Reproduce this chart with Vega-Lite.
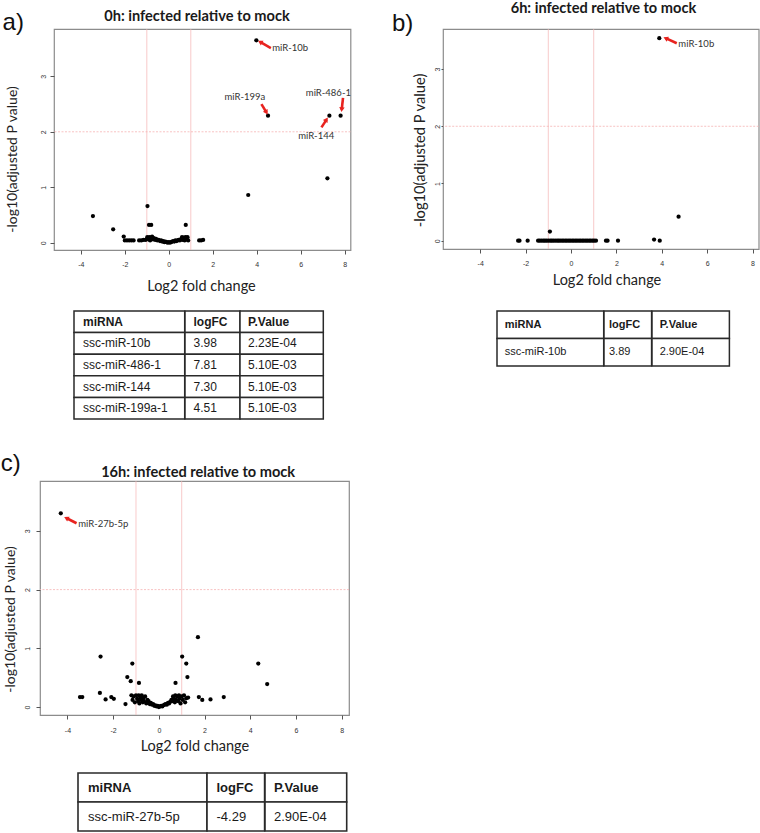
{
  "$schema": "https://vega.github.io/schema/vega-lite/v6.json",
  "padding": 0,
  "background": "white",
  "config": {"view": {"stroke": null}, "font": "Liberation Sans"},
  "datasets": {
    "ptsA": [{"x":3.98,"y":3.65},{"x":4.51,"y":2.29},{"x":7.30,"y":2.29},{"x":7.81,"y":2.29},{"x":7.21,"y":1.16},{"x":3.61,"y":0.86},{"x":-0.97,"y":0.66},{"x":-3.45,"y":0.48},{"x":-2.53,"y":0.24},{"x":-0.9,"y":0.32},{"x":-0.8,"y":0.32},{"x":0.77,"y":0.32},{"x":-2.05,"y":0.11},{"x":-2.0,"y":0.04},{"x":-1.9,"y":0.04},{"x":-1.8,"y":0.04},{"x":-1.7,"y":0.04},{"x":-1.6,"y":0.04},{"x":-1.35,"y":0.04},{"x":-1.25,"y":0.04},{"x":-1.15,"y":0.05},{"x":-1.05,"y":0.05},{"x":-0.98,"y":0.1},{"x":-0.92,"y":0.06},{"x":-0.88,"y":0.1},{"x":-0.85,"y":0.04},{"x":-0.8,"y":0.09},{"x":-0.76,"y":0.11},{"x":-0.72,"y":0.06},{"x":-0.68,"y":0.08},{"x":-0.62,"y":0.05},{"x":-0.58,"y":0.07},{"x":-0.52,"y":0.04},{"x":-0.46,"y":0.05},{"x":-0.4,"y":0.03},{"x":-0.35,"y":0.04},{"x":-0.3,"y":0.02},{"x":-0.25,"y":0.03},{"x":-0.2,"y":0.01},{"x":-0.15,"y":0.02},{"x":-0.1,"y":0.01},{"x":-0.05,"y":0.0},{"x":0.0,"y":0.01},{"x":0.05,"y":0.0},{"x":0.1,"y":0.01},{"x":0.15,"y":0.02},{"x":0.2,"y":0.03},{"x":0.25,"y":0.02},{"x":0.3,"y":0.04},{"x":0.35,"y":0.03},{"x":0.4,"y":0.04},{"x":0.45,"y":0.05},{"x":0.5,"y":0.04},{"x":0.55,"y":0.06},{"x":0.6,"y":0.1},{"x":0.63,"y":0.05},{"x":0.68,"y":0.09},{"x":0.72,"y":0.04},{"x":0.76,"y":0.1},{"x":0.8,"y":0.06},{"x":0.85,"y":0.1},{"x":0.88,"y":0.04},{"x":1.38,"y":0.04},{"x":1.47,"y":0.04},{"x":1.56,"y":0.05}],
    "ptsB": [{"x":3.89,"y":3.54},{"x":4.74,"y":0.42},{"x":-0.93,"y":0.16},{"x":3.66,"y":0.02},{"x":3.91,"y":0.0},{"x":2.07,"y":0},{"x":1.54,"y":0},{"x":1.61,"y":0},{"x":-2.33,"y":0},{"x":-2.27,"y":0},{"x":-1.91,"y":0},{"x":-1.45,"y":0},{"x":-1.38,"y":0},{"x":-1.3,"y":0},{"x":-1.22,"y":0},{"x":-1.15,"y":0},{"x":-1.08,"y":0},{"x":-1.0,"y":0},{"x":-0.92,"y":0},{"x":-0.85,"y":0},{"x":-0.78,"y":0},{"x":-0.7,"y":0},{"x":-0.62,"y":0},{"x":-0.55,"y":0},{"x":-0.48,"y":0},{"x":-0.4,"y":0},{"x":-0.33,"y":0},{"x":-0.25,"y":0},{"x":-0.18,"y":0},{"x":-0.1,"y":0},{"x":-0.03,"y":0},{"x":0.05,"y":0},{"x":0.12,"y":0},{"x":0.2,"y":0},{"x":0.27,"y":0},{"x":0.35,"y":0},{"x":0.42,"y":0},{"x":0.5,"y":0},{"x":0.57,"y":0},{"x":0.65,"y":0},{"x":0.72,"y":0},{"x":0.8,"y":0},{"x":0.87,"y":0},{"x":0.95,"y":0},{"x":1.02,"y":0},{"x":1.1,"y":0}],
    "ptsC": [{"x":-4.29,"y":3.3},{"x":-2.55,"y":0.86},{"x":-1.16,"y":0.74},{"x":-1.38,"y":0.51},{"x":-1.23,"y":0.44},{"x":-0.87,"y":0.41},{"x":0.73,"y":0.41},{"x":1.02,"y":0.86},{"x":1.2,"y":0.74},{"x":1.25,"y":0.51},{"x":1.71,"y":1.19},{"x":4.35,"y":0.74},{"x":4.74,"y":0.39},{"x":-3.45,"y":0.17},{"x":-3.35,"y":0.17},{"x":-2.58,"y":0.24},{"x":-2.33,"y":0.13},{"x":-2.08,"y":0.17},{"x":-1.97,"y":0.14},{"x":-1.46,"y":0.05},{"x":1.28,"y":0.16},{"x":1.75,"y":0.17},{"x":1.9,"y":0.12},{"x":2.26,"y":0.13},{"x":2.84,"y":0.17},{"x":-1.2,"y":0.2},{"x":-1.15,"y":0.12},{"x":-1.1,"y":0.18},{"x":-1.05,"y":0.08},{"x":-1.0,"y":0.2},{"x":-0.95,"y":0.14},{"x":-0.9,"y":0.1},{"x":-0.88,"y":0.2},{"x":-0.85,"y":0.06},{"x":-0.8,"y":0.16},{"x":-0.78,"y":0.12},{"x":-0.75,"y":0.2},{"x":-0.7,"y":0.08},{"x":-0.68,"y":0.15},{"x":-0.65,"y":0.1},{"x":-0.6,"y":0.18},{"x":-0.55,"y":0.06},{"x":-0.5,"y":0.12},{"x":-0.48,"y":0.08},{"x":-0.45,"y":0.1},{"x":-0.4,"y":0.05},{"x":-0.35,"y":0.07},{"x":-0.3,"y":0.04},{"x":-0.25,"y":0.05},{"x":-0.2,"y":0.02},{"x":-0.15,"y":0.03},{"x":-0.1,"y":0.01},{"x":-0.05,"y":0.02},{"x":0.0,"y":0.0},{"x":0.05,"y":0.01},{"x":0.1,"y":0.02},{"x":0.15,"y":0.01},{"x":0.2,"y":0.03},{"x":0.25,"y":0.04},{"x":0.3,"y":0.05},{"x":0.35,"y":0.04},{"x":0.4,"y":0.07},{"x":0.45,"y":0.06},{"x":0.5,"y":0.09},{"x":0.55,"y":0.12},{"x":0.6,"y":0.1},{"x":0.62,"y":0.18},{"x":0.65,"y":0.15},{"x":0.7,"y":0.08},{"x":0.72,"y":0.2},{"x":0.75,"y":0.12},{"x":0.8,"y":0.18},{"x":0.85,"y":0.1},{"x":0.88,"y":0.2},{"x":0.9,"y":0.14},{"x":0.95,"y":0.06},{"x":1.0,"y":0.18},{"x":1.05,"y":0.12},{"x":1.1,"y":0.2},{"x":1.15,"y":0.08},{"x":1.2,"y":0.15}],
    "arrA": [{"x":4.64,"y":3.51,"x2":4.15,"y2":3.62},{"x":4.21,"y":2.50,"x2":4.44,"y2":2.35},{"x":7.92,"y":2.61,"x2":7.86,"y2":2.40},{"x":6.94,"y":2.08,"x2":7.17,"y2":2.22}],
    "labA": [{"label":"miR-10b","x":4.70,"y":3.51},{"label":"miR-199a","x":2.53,"y":2.63},{"label":"miR-486-1","x":6.23,"y":2.70},{"label":"miR-144","x":5.88,"y":1.92}],
    "arrB": [{"x":4.66,"y":3.45,"x2":4.17,"y2":3.54}],
    "labB": [{"label":"miR-10b","x":4.73,"y":3.44}],
    "arrC": [{"x":-3.60,"y":3.13,"x2":-4.05,"y2":3.22}],
    "labC": [{"label":"miR-27b-5p","x":-3.53,"y":3.11}],
    "tabA": [{"row":0,"miRNA":"miRNA","logFC":"logFC","PValue":"P.Value"},{"row":1,"miRNA":"ssc-miR-10b","logFC":"3.98","PValue":"2.23E-04"},{"row":2,"miRNA":"ssc-miR-486-1","logFC":"7.81","PValue":"5.10E-03"},{"row":3,"miRNA":"ssc-miR-144","logFC":"7.30","PValue":"5.10E-03"},{"row":4,"miRNA":"ssc-miR-199a-1","logFC":"4.51","PValue":"5.10E-03"}],
    "tabB": [{"row":0,"miRNA":"miRNA","logFC":"logFC","PValue":"P.Value"},{"row":1,"miRNA":"ssc-miR-10b","logFC":"3.89","PValue":"2.90E-04"}],
    "tabC": [{"row":0,"miRNA":"miRNA","logFC":"logFC","PValue":"P.Value"},{"row":1,"miRNA":"ssc-miR-27b-5p","logFC":"-4.29","PValue":"2.90E-04"}]
  },
  "spacing": 0,
  "bounds": "flush",
  "vconcat": [
    {
      "spacing": 0,
      "bounds": "flush",
      "hconcat": [
        {"width": 13.2, "height": 1, "data": {"values": []}, "mark": "point"},
        {
          "width": 296.5, "height": 221,
          "view": {"stroke": "#8c8c8c", "strokeWidth": 1.2},
          "layer": [
            {"data": {"values": [{}]}, "mark": {"type": "rule", "color": "#f5b3b3", "strokeWidth": 0.7}, "encoding": {"x": {"datum": -1, "type": "quantitative"}}},
            {"data": {"values": [{}]}, "mark": {"type": "rule", "color": "#f5b3b3", "strokeWidth": 0.7}, "encoding": {"x": {"datum": 1, "type": "quantitative"}}},
            {"data": {"values": [{}]}, "mark": {"type": "rule", "color": "#f5b3b3", "strokeWidth": 0.8, "strokeDash": [2, 1.5]}, "encoding": {"y": {"datum": 2, "type": "quantitative"}}},
            {"data": {"name": "ptsA"}, "mark": {"type": "circle", "size": 18, "color": "#000", "opacity": 1},
             "encoding": {
               "x": {"field": "x", "type": "quantitative", "scale": {"domain": [-5.22, 8.26], "nice": false, "zero": false},
                     "axis": {"values": [-4,-2,0,2,4,6,8], "labelExpr": "'' + datum.value", "domain": false, "grid": false, "tickColor": "#555", "tickSize": 4, "labelFont": "Liberation Sans", "labelFontSize": 7, "labelColor": "#333", "labelPadding": 6, "labelFlush": false, "title": "Log2 fold change", "titleFont": "Lato", "titleFontSize": 14.5, "titleFontWeight": "normal", "titleColor": "#222", "titleX": 147, "titleY": 40, "titleBaseline": "alphabetic", "titleAlign": "center"}},
               "y": {"field": "y", "type": "quantitative", "scale": {"domain": [-0.132, 3.854], "nice": false, "zero": false},
                     "axis": {"values": [0,1,2,3], "labelExpr": "'' + datum.value", "domain": false, "grid": false, "tickColor": "#555", "tickSize": 4, "labelAngle": 270, "labelAlign": "center", "labelBaseline": "bottom", "labelFont": "Liberation Sans", "labelFontSize": 7, "labelColor": "#333", "labelPadding": 3.6, "labelFlush": false, "title": "-log10(adjusted P value)", "titleFont": "Lato", "titleFontSize": 14, "titleFontWeight": "normal", "titleColor": "#222", "titleX": -34.5, "titleY": 130, "titleAngle": 270, "titleAlign": "center", "titleBaseline": "bottom"}}
             }},
            {"data": {"name": "arrA"}, "transform": [{"calculate": "atan2(datum.x2 - datum.x, (datum.y2 - datum.y) * 2.52) * 180 / PI", "as": "ang"}],
             "layer": [
               {"mark": {"type": "rule", "color": "#e8231f", "strokeWidth": 2.6}, "encoding": {"x": {"field": "x", "type": "quantitative"}, "y": {"field": "y", "type": "quantitative"}, "x2": {"field": "x2"}, "y2": {"field": "y2"}}},
               {"mark": {"type": "point", "shape": "triangle-up", "filled": true, "size": 30, "color": "#e8231f", "opacity": 1}, "encoding": {"x": {"field": "x2", "type": "quantitative"}, "y": {"field": "y2", "type": "quantitative"}, "angle": {"field": "ang", "type": "quantitative", "scale": null}}}
             ]},
            {"data": {"name": "labA"}, "mark": {"type": "text", "align": "left", "baseline": "middle", "font": "Lato", "fontSize": 9.5, "color": "#333"}, "encoding": {"x": {"field": "x", "type": "quantitative"}, "y": {"field": "y", "type": "quantitative"}, "text": {"field": "label"}}},
            {"data": {"values": [{}]}, "mark": {"type": "text", "text": "0h: infected relative to mock", "align": "center", "baseline": "alphabetic", "font": "Lato", "fontSize": 14.6, "fontWeight": "bold", "color": "#1a1a1a"}, "encoding": {"x": {"datum": 1.28, "type": "quantitative"}, "y": {"datum": 4.007, "type": "quantitative"}}},
            {"data": {"values": [{}]}, "mark": {"type": "text", "text": "a)", "align": "left", "baseline": "middle", "font": "Liberation Sans", "fontSize": 24, "color": "#111"}, "encoding": {"x": {"datum": -7.56, "type": "quantitative"}, "y": {"datum": 3.97, "type": "quantitative"}}}
          ]
        },
        {"width": 92, "height": 1, "data": {"values": []}, "mark": "point"},
        {
          "width": 315.7, "height": 220,
          "view": {"stroke": "#8c8c8c", "strokeWidth": 1.2},
          "layer": [
            {"data": {"values": [{}]}, "mark": {"type": "rule", "color": "#f5b3b3", "strokeWidth": 0.7}, "encoding": {"x": {"datum": -1, "type": "quantitative"}}},
            {"data": {"values": [{}]}, "mark": {"type": "rule", "color": "#f5b3b3", "strokeWidth": 0.7}, "encoding": {"x": {"datum": 1, "type": "quantitative"}}},
            {"data": {"values": [{}]}, "mark": {"type": "rule", "color": "#f5b3b3", "strokeWidth": 0.8, "strokeDash": [2, 1.5]}, "encoding": {"y": {"datum": 2, "type": "quantitative"}}},
            {"data": {"name": "ptsB"}, "mark": {"type": "circle", "size": 18, "color": "#000", "opacity": 1},
             "encoding": {
               "x": {"field": "x", "type": "quantitative", "scale": {"domain": [-5.64, 8.27], "nice": false, "zero": false},
                     "axis": {"values": [-4,-2,0,2,4,6,8], "labelExpr": "'' + datum.value", "domain": false, "grid": false, "tickColor": "#555", "tickSize": 4, "labelFont": "Liberation Sans", "labelFontSize": 7, "labelColor": "#333", "labelPadding": 6, "labelFlush": false, "title": "Log2 fold change", "titleFont": "Lato", "titleFontSize": 14.5, "titleFontWeight": "normal", "titleColor": "#222", "titleX": 163.5, "titleY": 35.7, "titleBaseline": "alphabetic", "titleAlign": "center"}},
               "y": {"field": "y", "type": "quantitative", "scale": {"domain": [-0.145, 3.70], "nice": false, "zero": false},
                     "axis": {"values": [0,1,2,3], "labelExpr": "'' + datum.value", "domain": false, "grid": false, "tickColor": "#555", "tickSize": 2, "labelAngle": 270, "labelAlign": "center", "labelBaseline": "bottom", "labelFont": "Liberation Sans", "labelFontSize": 7, "labelColor": "#333", "labelPadding": 0.5, "labelFlush": false, "title": "-log10(adjusted P value)", "titleFont": "Lato", "titleFontSize": 14.7, "titleFontWeight": "normal", "titleColor": "#222", "titleX": -16, "titleY": 121, "titleAngle": 270, "titleAlign": "center", "titleBaseline": "bottom"}}
             }},
            {"data": {"name": "arrB"}, "transform": [{"calculate": "atan2(datum.x2 - datum.x, (datum.y2 - datum.y) * 2.52) * 180 / PI", "as": "ang"}],
             "layer": [
               {"mark": {"type": "rule", "color": "#e8231f", "strokeWidth": 2.6}, "encoding": {"x": {"field": "x", "type": "quantitative"}, "y": {"field": "y", "type": "quantitative"}, "x2": {"field": "x2"}, "y2": {"field": "y2"}}},
               {"mark": {"type": "point", "shape": "triangle-up", "filled": true, "size": 30, "color": "#e8231f", "opacity": 1}, "encoding": {"x": {"field": "x2", "type": "quantitative"}, "y": {"field": "y2", "type": "quantitative"}, "angle": {"field": "ang", "type": "quantitative", "scale": null}}}
             ]},
            {"data": {"name": "labB"}, "mark": {"type": "text", "align": "left", "baseline": "middle", "font": "Lato", "fontSize": 9.5, "color": "#333"}, "encoding": {"x": {"field": "x", "type": "quantitative"}, "y": {"field": "y", "type": "quantitative"}, "text": {"field": "label"}}},
            {"data": {"values": [{}]}, "mark": {"type": "text", "text": "6h: infected relative to mock", "align": "center", "baseline": "alphabetic", "font": "Lato", "fontSize": 14.6, "fontWeight": "bold", "color": "#1a1a1a"}, "encoding": {"x": {"datum": 1.43, "type": "quantitative"}, "y": {"datum": 3.973, "type": "quantitative"}}},
            {"data": {"values": [{}]}, "mark": {"type": "text", "text": "b)", "align": "left", "baseline": "middle", "font": "Liberation Sans", "fontSize": 24, "color": "#111"}, "encoding": {"x": {"datum": -7.89, "type": "quantitative"}, "y": {"datum": 3.79, "type": "quantitative"}}}
          ]
        }
      ]
    },
    {"width": 1, "height": 282, "data": {"values": []}, "mark": "point"},
    {
      "spacing": 0,
      "bounds": "flush",
      "hconcat": [
        {"width": 34, "height": 1, "data": {"values": []}, "mark": "point"},
        {"width": 110.7, "height": 108, "data": {"name": "tabA"}, "encoding": {"y": {"field": "row", "type": "ordinal", "axis": null, "scale": {"paddingInner": 0, "paddingOuter": 0}}},
         "layer": [
           {"mark": {"type": "rect", "fill": "white", "stroke": "#2a2a2a", "strokeWidth": 1.5}},
           {"transform": [{"filter": "datum.row == 0"}], "mark": {"type": "text", "align": "left", "baseline": "middle", "dx": 9, "font": "Liberation Sans", "fontSize": 12, "fontWeight": "bold", "color": "#1a1a1a"}, "encoding": {"x": {"datum": 0, "type": "quantitative", "scale": {"domain": [0, 1]}, "axis": null}, "text": {"field": "miRNA"}}},
           {"transform": [{"filter": "datum.row > 0"}], "mark": {"type": "text", "align": "left", "baseline": "middle", "dx": 9, "font": "Liberation Sans", "fontSize": 12, "color": "#1a1a1a"}, "encoding": {"x": {"datum": 0, "type": "quantitative", "scale": {"domain": [0, 1]}, "axis": null}, "text": {"field": "miRNA"}}}
         ]},
        {"width": 55, "height": 108, "data": {"name": "tabA"}, "encoding": {"y": {"field": "row", "type": "ordinal", "axis": null, "scale": {"paddingInner": 0, "paddingOuter": 0}}},
         "layer": [
           {"mark": {"type": "rect", "fill": "white", "stroke": "#2a2a2a", "strokeWidth": 1.5}},
           {"transform": [{"filter": "datum.row == 0"}], "mark": {"type": "text", "align": "left", "baseline": "middle", "dx": 8.5, "font": "Liberation Sans", "fontSize": 12, "fontWeight": "bold", "color": "#1a1a1a"}, "encoding": {"x": {"datum": 0, "type": "quantitative", "scale": {"domain": [0, 1]}, "axis": null}, "text": {"field": "logFC"}}},
           {"transform": [{"filter": "datum.row > 0"}], "mark": {"type": "text", "align": "left", "baseline": "middle", "dx": 8.5, "font": "Liberation Sans", "fontSize": 12, "color": "#1a1a1a"}, "encoding": {"x": {"datum": 0, "type": "quantitative", "scale": {"domain": [0, 1]}, "axis": null}, "text": {"field": "logFC"}}}
         ]},
        {"width": 83.3, "height": 108, "data": {"name": "tabA"}, "encoding": {"y": {"field": "row", "type": "ordinal", "axis": null, "scale": {"paddingInner": 0, "paddingOuter": 0}}},
         "layer": [
           {"mark": {"type": "rect", "fill": "white", "stroke": "#2a2a2a", "strokeWidth": 1.5}},
           {"transform": [{"filter": "datum.row == 0"}], "mark": {"type": "text", "align": "left", "baseline": "middle", "dx": 8, "font": "Liberation Sans", "fontSize": 12, "fontWeight": "bold", "color": "#1a1a1a"}, "encoding": {"x": {"datum": 0, "type": "quantitative", "scale": {"domain": [0, 1]}, "axis": null}, "text": {"field": "PValue"}}},
           {"transform": [{"filter": "datum.row > 0"}], "mark": {"type": "text", "align": "left", "baseline": "middle", "dx": 8, "font": "Liberation Sans", "fontSize": 12, "color": "#1a1a1a"}, "encoding": {"x": {"datum": 0, "type": "quantitative", "scale": {"domain": [0, 1]}, "axis": null}, "text": {"field": "PValue"}}}
         ]},
        {"width": 172.7, "height": 1, "data": {"values": []}, "mark": "point"},
        {"width": 106.7, "height": 55, "data": {"name": "tabB"}, "encoding": {"y": {"field": "row", "type": "ordinal", "axis": null, "scale": {"paddingInner": 0, "paddingOuter": 0}}},
         "layer": [
           {"mark": {"type": "rect", "fill": "white", "stroke": "#2a2a2a", "strokeWidth": 1.5}},
           {"transform": [{"filter": "datum.row == 0"}], "mark": {"type": "text", "align": "left", "baseline": "middle", "dx": 7.7, "font": "Liberation Sans", "fontSize": 11, "fontWeight": "bold", "color": "#1a1a1a"}, "encoding": {"x": {"datum": 0, "type": "quantitative", "scale": {"domain": [0, 1]}, "axis": null}, "text": {"field": "miRNA"}}},
           {"transform": [{"filter": "datum.row > 0"}], "mark": {"type": "text", "align": "left", "baseline": "middle", "dx": 7.7, "font": "Liberation Sans", "fontSize": 11, "color": "#1a1a1a"}, "encoding": {"x": {"datum": 0, "type": "quantitative", "scale": {"domain": [0, 1]}, "axis": null}, "text": {"field": "miRNA"}}}
         ]},
        {"width": 47.6, "height": 55, "data": {"name": "tabB"}, "encoding": {"y": {"field": "row", "type": "ordinal", "axis": null, "scale": {"paddingInner": 0, "paddingOuter": 0}}},
         "layer": [
           {"mark": {"type": "rect", "fill": "white", "stroke": "#2a2a2a", "strokeWidth": 1.5}},
           {"transform": [{"filter": "datum.row == 0"}], "mark": {"type": "text", "align": "left", "baseline": "middle", "dx": 5, "font": "Liberation Sans", "fontSize": 11, "fontWeight": "bold", "color": "#1a1a1a"}, "encoding": {"x": {"datum": 0, "type": "quantitative", "scale": {"domain": [0, 1]}, "axis": null}, "text": {"field": "logFC"}}},
           {"transform": [{"filter": "datum.row > 0"}], "mark": {"type": "text", "align": "left", "baseline": "middle", "dx": 5, "font": "Liberation Sans", "fontSize": 11, "color": "#1a1a1a"}, "encoding": {"x": {"datum": 0, "type": "quantitative", "scale": {"domain": [0, 1]}, "axis": null}, "text": {"field": "logFC"}}}
         ]},
        {"width": 77.4, "height": 55, "data": {"name": "tabB"}, "encoding": {"y": {"field": "row", "type": "ordinal", "axis": null, "scale": {"paddingInner": 0, "paddingOuter": 0}}},
         "layer": [
           {"mark": {"type": "rect", "fill": "white", "stroke": "#2a2a2a", "strokeWidth": 1.5}},
           {"transform": [{"filter": "datum.row == 0"}], "mark": {"type": "text", "align": "left", "baseline": "middle", "dx": 7.7, "font": "Liberation Sans", "fontSize": 11, "fontWeight": "bold", "color": "#1a1a1a"}, "encoding": {"x": {"datum": 0, "type": "quantitative", "scale": {"domain": [0, 1]}, "axis": null}, "text": {"field": "PValue"}}},
           {"transform": [{"filter": "datum.row > 0"}], "mark": {"type": "text", "align": "left", "baseline": "middle", "dx": 7.7, "font": "Liberation Sans", "fontSize": 11, "color": "#1a1a1a"}, "encoding": {"x": {"datum": 0, "type": "quantitative", "scale": {"domain": [0, 1]}, "axis": null}, "text": {"field": "PValue"}}}
         ]}
      ]
    },
    {"width": 1, "height": 170, "data": {"values": []}, "mark": "point"},
    {
      "width": 309, "height": 234,
      "view": {"stroke": "#8c8c8c", "strokeWidth": 1.2},
      "layer": [
        {"data": {"values": [{}]}, "mark": {"type": "rule", "color": "#f5b3b3", "strokeWidth": 0.7}, "encoding": {"x": {"datum": -1, "type": "quantitative"}}},
        {"data": {"values": [{}]}, "mark": {"type": "rule", "color": "#f5b3b3", "strokeWidth": 0.7}, "encoding": {"x": {"datum": 1, "type": "quantitative"}}},
        {"data": {"values": [{}]}, "mark": {"type": "rule", "color": "#f5b3b3", "strokeWidth": 0.8, "strokeDash": [2, 1.5]}, "encoding": {"y": {"datum": 2, "type": "quantitative"}}},
        {"data": {"name": "ptsC"}, "mark": {"type": "circle", "size": 18, "color": "#000", "opacity": 1},
         "encoding": {
           "x": {"field": "x", "type": "quantitative", "scale": {"domain": [-5.20, 8.32], "nice": false, "zero": false},
                 "axis": {"values": [-4,-2,0,2,4,6,8], "labelExpr": "'' + datum.value", "domain": false, "grid": false, "tickColor": "#555", "tickSize": 4, "labelFont": "Liberation Sans", "labelFontSize": 7, "labelColor": "#333", "labelPadding": 7, "labelFlush": false, "title": "Log2 fold change", "titleFont": "Lato", "titleFontSize": 14.5, "titleFontWeight": "normal", "titleColor": "#222", "titleX": 154.4, "titleY": 35, "titleBaseline": "alphabetic", "titleAlign": "center"}},
           "y": {"field": "y", "type": "quantitative", "scale": {"domain": [-0.136, 3.85], "nice": false, "zero": false},
                 "axis": {"values": [0,1,2,3], "labelExpr": "'' + datum.value", "domain": false, "grid": false, "tickColor": "#555", "tickSize": 4, "labelAngle": 270, "labelAlign": "center", "labelBaseline": "bottom", "labelFont": "Liberation Sans", "labelFontSize": 7, "labelColor": "#333", "labelPadding": 6, "labelFlush": false, "title": "-log10(adjusted P value)", "titleFont": "Lato", "titleFontSize": 14, "titleFontWeight": "normal", "titleColor": "#222", "titleX": -22.8, "titleY": 138, "titleAngle": 270, "titleAlign": "center", "titleBaseline": "bottom"}}
         }},
        {"data": {"name": "arrC"}, "transform": [{"calculate": "atan2(datum.x2 - datum.x, (datum.y2 - datum.y) * 2.56) * 180 / PI", "as": "ang"}],
         "layer": [
           {"mark": {"type": "rule", "color": "#e8231f", "strokeWidth": 2.6}, "encoding": {"x": {"field": "x", "type": "quantitative"}, "y": {"field": "y", "type": "quantitative"}, "x2": {"field": "x2"}, "y2": {"field": "y2"}}},
           {"mark": {"type": "point", "shape": "triangle-up", "filled": true, "size": 30, "color": "#e8231f", "opacity": 1}, "encoding": {"x": {"field": "x2", "type": "quantitative"}, "y": {"field": "y2", "type": "quantitative"}, "angle": {"field": "ang", "type": "quantitative", "scale": null}}}
         ]},
        {"data": {"name": "labC"}, "mark": {"type": "text", "align": "left", "baseline": "middle", "font": "Lato", "fontSize": 9.5, "color": "#333"}, "encoding": {"x": {"field": "x", "type": "quantitative"}, "y": {"field": "y", "type": "quantitative"}, "text": {"field": "label"}}},
        {"data": {"values": [{}]}, "mark": {"type": "text", "text": "16h: infected relative to mock", "align": "center", "baseline": "alphabetic", "font": "Lato", "fontSize": 14.6, "fontWeight": "bold", "color": "#1a1a1a"}, "encoding": {"x": {"datum": 1.72, "type": "quantitative"}, "y": {"datum": 3.913, "type": "quantitative"}}},
        {"data": {"values": [{}]}, "mark": {"type": "text", "text": "c)", "align": "left", "baseline": "middle", "font": "Liberation Sans", "fontSize": 24, "color": "#111"}, "encoding": {"x": {"datum": -6.92, "type": "quantitative"}, "y": {"datum": 4.14, "type": "quantitative"}}}
      ]
    },
    {"width": 1, "height": 58, "data": {"values": []}, "mark": "point"},
    {
      "spacing": 0,
      "bounds": "flush",
      "hconcat": [
        {"width": 37.4, "height": 1, "data": {"values": []}, "mark": "point"},
        {"width": 129, "height": 58, "data": {"name": "tabC"}, "encoding": {"y": {"field": "row", "type": "ordinal", "axis": null, "scale": {"paddingInner": 0, "paddingOuter": 0}}},
         "layer": [
           {"mark": {"type": "rect", "fill": "white", "stroke": "#2a2a2a", "strokeWidth": 1.6}},
           {"transform": [{"filter": "datum.row == 0"}], "mark": {"type": "text", "align": "left", "baseline": "middle", "dx": 10, "font": "Liberation Sans", "fontSize": 13, "fontWeight": "bold", "color": "#1a1a1a"}, "encoding": {"x": {"datum": 0, "type": "quantitative", "scale": {"domain": [0, 1]}, "axis": null}, "text": {"field": "miRNA"}}},
           {"transform": [{"filter": "datum.row > 0"}], "mark": {"type": "text", "align": "left", "baseline": "middle", "dx": 10, "font": "Liberation Sans", "fontSize": 13, "color": "#1a1a1a"}, "encoding": {"x": {"datum": 0, "type": "quantitative", "scale": {"domain": [0, 1]}, "axis": null}, "text": {"field": "miRNA"}}}
         ]},
        {"width": 57.6, "height": 58, "data": {"name": "tabC"}, "encoding": {"y": {"field": "row", "type": "ordinal", "axis": null, "scale": {"paddingInner": 0, "paddingOuter": 0}}},
         "layer": [
           {"mark": {"type": "rect", "fill": "white", "stroke": "#2a2a2a", "strokeWidth": 1.6}},
           {"transform": [{"filter": "datum.row == 0"}], "mark": {"type": "text", "align": "left", "baseline": "middle", "dx": 9.5, "font": "Liberation Sans", "fontSize": 13, "fontWeight": "bold", "color": "#1a1a1a"}, "encoding": {"x": {"datum": 0, "type": "quantitative", "scale": {"domain": [0, 1]}, "axis": null}, "text": {"field": "logFC"}}},
           {"transform": [{"filter": "datum.row > 0"}], "mark": {"type": "text", "align": "left", "baseline": "middle", "dx": 9.5, "font": "Liberation Sans", "fontSize": 13, "color": "#1a1a1a"}, "encoding": {"x": {"datum": 0, "type": "quantitative", "scale": {"domain": [0, 1]}, "axis": null}, "text": {"field": "logFC"}}}
         ]},
        {"width": 81.7, "height": 58, "data": {"name": "tabC"}, "encoding": {"y": {"field": "row", "type": "ordinal", "axis": null, "scale": {"paddingInner": 0, "paddingOuter": 0}}},
         "layer": [
           {"mark": {"type": "rect", "fill": "white", "stroke": "#2a2a2a", "strokeWidth": 1.6}},
           {"transform": [{"filter": "datum.row == 0"}], "mark": {"type": "text", "align": "left", "baseline": "middle", "dx": 9, "font": "Liberation Sans", "fontSize": 13, "fontWeight": "bold", "color": "#1a1a1a"}, "encoding": {"x": {"datum": 0, "type": "quantitative", "scale": {"domain": [0, 1]}, "axis": null}, "text": {"field": "PValue"}}},
           {"transform": [{"filter": "datum.row > 0"}], "mark": {"type": "text", "align": "left", "baseline": "middle", "dx": 9, "font": "Liberation Sans", "fontSize": 13, "color": "#1a1a1a"}, "encoding": {"x": {"datum": 0, "type": "quantitative", "scale": {"domain": [0, 1]}, "axis": null}, "text": {"field": "PValue"}}}
         ]}
      ]
    }
  ]
}
